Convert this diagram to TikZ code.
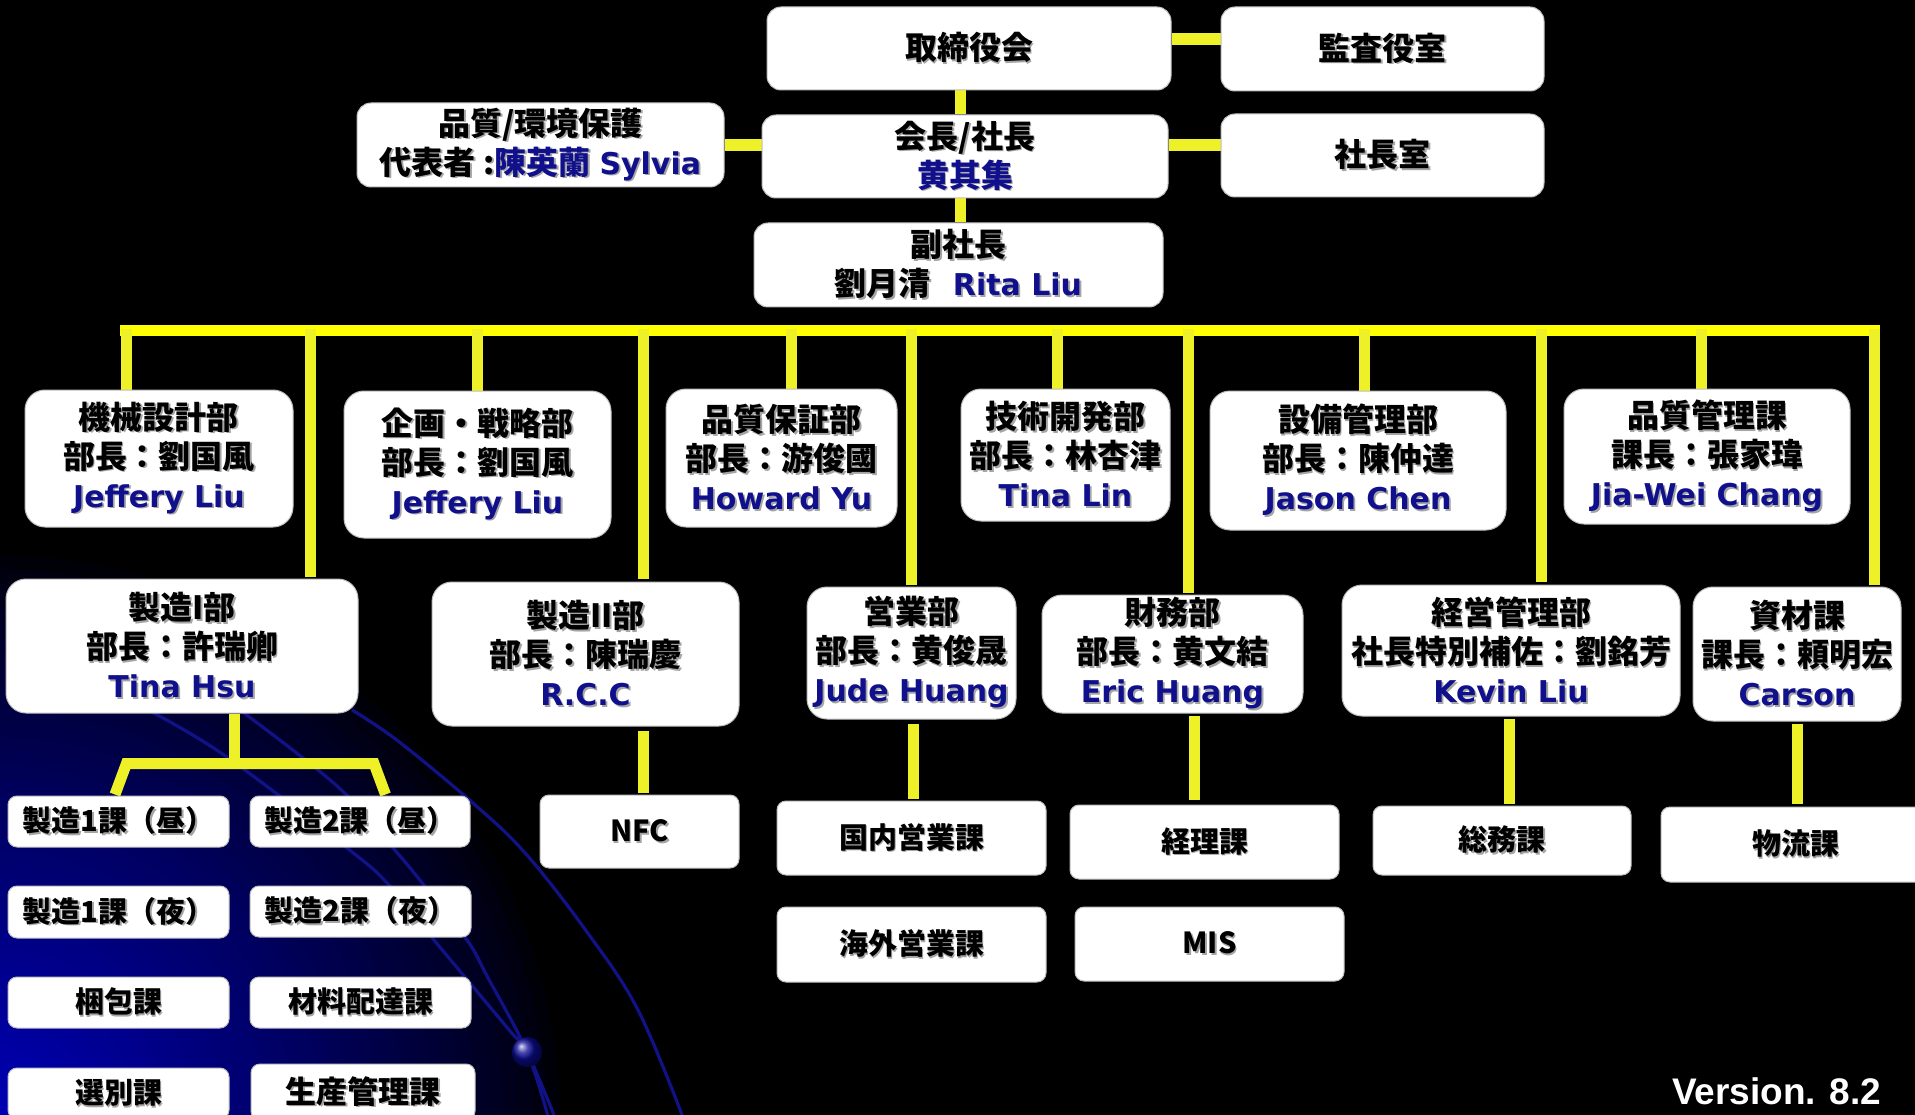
\documentclass[tikz,border=0pt]{standalone}
\usepackage{fontspec}
\newfontfamily\cjk{Noto Sans CJK JP}
\newfontfamily\lat{DejaVu Sans}
\newfontfamily\arial{Liberation Sans}
\usetikzlibrary{calc}
\definecolor{navy}{RGB}{16,16,140}
\definecolor{yelbus}{RGB}{255,255,0}
\definecolor{yel}{RGB}{238,240,40}
\definecolor{shadowc}{RGB}{165,165,165}
\definecolor{boxline}{RGB}{190,190,190}
\definecolor{bgbA}{RGB}{0,0,178}
\definecolor{arcblue}{RGB}{18,18,135}
\definecolor{dotblue}{RGB}{12,12,150}
\pgfdeclarelayer{backdrop}
\pgfdeclarelayer{links}
\pgfsetlayers{backdrop,links,main}
\newcommand\shd[2]{\leavevmode\rlap{\kern1.8pt\raisebox{-1.8pt}{\textcolor{shadowc}{#2}}}\textcolor{#1}{#2}}
\newcommand\J[1]{{\cjk\bfseries\shd{black}{#1}}}
\newcommand\JB[1]{{\cjk\bfseries\shd{navy}{#1}}}
\newcommand\JJB[2]{{\cjk\bfseries\leavevmode\rlap{\kern1.8pt\raisebox{-1.8pt}{\textcolor{shadowc}{#1#2}}}\textcolor{black}{#1}\textcolor{navy}{#2}}}
\newcommand\Nm[1]{{\lat\bfseries\fontsize{30}{39}\selectfont\shd{navy}{#1}}}
\newcommand\obox[7]{\node[#6, minimum width={#4pt-#2pt}, minimum height={#5pt-#3pt}] (#1) at ({(#2+#4)/2},{(#3+#5)/2}) {#7};}
\begin{document}
\begin{tikzpicture}[x=1pt,y=-1pt,
  orgbox/.style={draw=boxline, line width=1pt, fill=white, rounded corners=#1, inner sep=0pt, align=center, font=\fontsize{32}{39}\selectfont},
  orgbox/.default=14pt,
  bigbox/.style={orgbox=20pt},
  subbox/.style={orgbox=9pt, font=\fontsize{29}{35}\selectfont},
  conn/.style={draw=yel, line width=11pt},
  arcline/.style={draw=arcblue, line width=3.2pt}]
\useasboundingbox (0,0) rectangle (1915,1115);
% ---------- top ----------
\obox{n1}{767}{7}{1171}{90}{orgbox}{\J{取締役会}}
\obox{n2}{1221}{7}{1544}{91}{orgbox}{\J{監査役室}}
\obox{n3}{762}{115}{1168}{198}{orgbox}{\J{会長/社長}\\\JB{黄其集}}
\obox{n4}{1221}{114}{1544}{197}{orgbox}{\J{社長室}}
\obox{n5}{357}{103}{724}{187}{orgbox}{\J{品質/環境保護}\\\JJB{代表者 :}{陳英蘭}\hspace{9pt}\Nm{Sylvia}}
\obox{n6}{754}{223}{1163}{307}{orgbox}{\J{副社長}\\\J{劉月清}\hspace{22pt}\Nm{Rita Liu}}
% ---------- row 1 ----------
\obox{a1}{25}{390}{293}{527}{bigbox}{\J{機械設計部}\\\J{部長：劉国風}\\\Nm{Jeffery Liu}}
\obox{a2}{344}{391}{611}{538}{bigbox}{\J{企画・戦略部}\\\J{部長：劉国風}\\\Nm{Jeffery Liu}}
\obox{a3}{666}{389}{897}{527}{bigbox}{\J{品質保証部}\\\J{部長：游俊國}\\\Nm{Howard Yu}}
\obox{a4}{961}{389}{1170}{521}{bigbox}{\J{技術開発部}\\\J{部長：林杏津}\\\Nm{Tina Lin}}
\obox{a5}{1210}{391}{1506}{530}{bigbox}{\J{設備管理部}\\\J{部長：陳仲達}\\\Nm{Jason Chen}}
\obox{a6}{1564}{389}{1850}{524}{bigbox}{\J{品質管理課}\\\J{課長：張家瑋}\\\Nm{Jia-Wei Chang}}
% ---------- row 2 ----------
\obox{b1}{6}{579}{358}{713}{bigbox}{\J{製造I部}\\\J{部長：許瑞卿}\\\Nm{Tina Hsu}}
\obox{b2}{432}{582}{739}{726}{bigbox}{\J{製造II部}\\\J{部長：陳瑞慶}\\\Nm{R.C.C}}
\obox{b3}{807}{587}{1016}{719}{bigbox}{\J{営業部}\\\J{部長：黄俊晟}\\\Nm{Jude Huang}}
\obox{b4}{1042}{595}{1303}{713}{bigbox}{\J{財務部}\\\J{部長：黄文結}\\\Nm{Eric Huang}}
\obox{b5}{1342}{585}{1680}{716}{bigbox}{\J{経営管理部}\\\J{社長特別補佐：劉銘芳}\\\Nm{Kevin Liu}}
\obox{b6}{1693}{587}{1901}{721}{bigbox}{\J{資材課}\\\J{課長：頼明宏}\\\Nm{Carson}}
% ---------- row 3 ----------
\obox{c1}{8}{796}{229}{847}{subbox}{\J{製造1課（昼）}}
\obox{c2}{250}{796}{470}{847}{subbox}{\J{製造2課（昼）}}
\obox{c3}{8}{886}{229}{938}{subbox}{\J{製造1課（夜）}}
\obox{c4}{250}{886}{471}{937}{subbox}{\J{製造2課（夜）}}
\obox{c5}{8}{977}{229}{1028}{subbox}{\J{梱包課}}
\obox{c6}{250}{977}{471}{1028}{subbox}{\J{材料配達課}}
\obox{c7}{8}{1068}{229}{1119}{subbox}{\J{選別課}}
\obox{c8}{251}{1064}{475}{1120}{subbox,font=\fontsize{31}{35}\selectfont}{\J{生産管理課}}
\obox{d1}{540}{795}{739}{868}{subbox}{\J{NFC}}
\obox{e1}{777}{801}{1046}{875}{subbox}{\J{国内営業課}}
\obox{e2}{777}{907}{1046}{982}{subbox}{\J{海外営業課}}
\obox{f1}{1070}{805}{1339}{879}{subbox}{\J{経理課}}
\obox{f2}{1075}{907}{1344}{981}{subbox}{\J{MIS}}
\obox{g1}{1373}{806}{1631}{875}{subbox}{\J{総務課}}
\obox{h1}{1661}{807}{1930}{882}{subbox}{\J{物流課}}
\node[anchor=base west, inner sep=0pt, text=white, font=\arial\bfseries\fontsize{37}{40}\selectfont] (ver) at (1672,1104) {Version. 8.2};
% ---------- background ----------
\begin{pgfonlayer}{backdrop}
  \fill[black] (0,0) rectangle (1915,1115);
  \begin{scope}
    \clip (0,0) rectangle (1915,1115);
    \foreach \i in {0,...,39}{
      \pgfmathsetmacro\rr{570-14*\i}
      \pgfmathsetmacro\pc{100*((\i+1)/40)^0.8}
      \fill[bgbA!\pc!black] (-10,1125) circle[radius=\rr pt];
    }
    \draw[arcline] plot[smooth, tension=0.6] coordinates {(148,710) (224,755) (347,848) (388,884) (434,940) (464,976) (510,1031) (527,1052) (556,1120)};
    \draw[arcline] plot[smooth, tension=0.6] coordinates {(240,710) (337,786) (393,848) (423,884) (467,940) (487,976) (527,1052) (549,1120)};
    \draw[arcline] plot[smooth, tension=0.6] coordinates {(352,710) (398,741) (474,804) (526,854) (587,932) (638,1010) (684,1120)};
    \shade[ball color=dotblue] (527,1052) circle[radius=15pt];
  \end{scope}
\end{pgfonlayer}
% ---------- connectors ----------
\begin{pgfonlayer}{links}
  \coordinate (busL) at (120,331);
  \coordinate (busR) at (1880,331);
  \draw[draw=yelbus, line width=11pt] (busL) -- (busR);
  \draw[conn, line width=12pt] ($(n1.east)+(0,-9.5)$) -- ($(n1.east -| n2.west)+(0,-9.5)$);
  \draw[conn] ($(n1.south)+(-9,0)$) -- ($(n3.north -| n1.south)+(-9,0)$);
  \draw[conn, line width=12pt] (n5.east) -- (n5.east -| n3.west);
  \draw[conn, line width=12pt] ($(n3.east)+(0,-11.5)$) -- ($(n3.east -| n4.west)+(0,-11.5)$);
  \draw[conn] ($(n3.south)+(-5,0)$) -- ($(n6.north -| n3.south)+(-5,0)$);
  % row 1
  \draw[conn] ($(busL -| a1.north)+(-33,-2)$) -- ($(a1.north)+(-33,0)$);
  \draw[conn] ($(busL -| a2.north)+(-0.5,-2)$) -- ($(a2.north)+(-0.5,0)$);
  \draw[conn] ($(busL -| a3.north)+(9.5,-2)$) -- ($(a3.north)+(9.5,0)$);
  \draw[conn] ($(busL -| a4.north)+(-8.5,-2)$) -- ($(a4.north)+(-8.5,0)$);
  \draw[conn] ($(busL -| a5.north)+(6,-2)$) -- ($(a5.north)+(6,0)$);
  \draw[conn] ($(busL -| a6.north)+(-6,-2)$) -- ($(a6.north)+(-6,0)$);
  % row 2
  \draw[conn] ($(busL -| b1.north)+(128,-2)$) -- ($(b1.north)+(128,-2)$);
  \draw[conn] ($(busL -| b2.north)+(57.5,-2)$) -- ($(b2.north)+(57.5,-3)$);
  \draw[conn] ($(busL -| b3.north)+(-0.5,-2)$) -- ($(b3.north)+(-0.5,-2)$);
  \draw[conn] ($(busL -| b4.north)+(15.5,-2)$) -- ($(b4.north)+(15.5,-2)$);
  \draw[conn] ($(busL -| b5.north)+(30,-2)$) -- ($(b5.north)+(30,-3)$);
  \draw[conn] ($(busL -| b6.north)+(77,-2)$) -- ($(b6.north)+(77,-2)$);
  % row 3
  \draw[conn] ($(b1.south)+(52,0)$) -- ($(b1.south)+(52,51)$);
  \draw[conn, line join=miter] ($(c1.north)+(-3.5,-1)$) -- ($(c1.north)+(8,-32)$) -- ($(c2.north)+(14,-32)$) -- ($(c2.north)+(25.5,-1)$);
  \draw[conn] ($(b2.south)+(57.5,4)$) -- ($(d1.north -| b2.south)+(57.5,-2)$);
  \draw[conn] ($(b3.south)+(1.5,4)$) -- ($(e1.north -| b3.south)+(1.5,-2)$);
  \draw[conn] ($(b4.south)+(21.5,2)$) -- ($(f1.north -| b4.south)+(21.5,-5)$);
  \draw[conn] ($(b5.south)+(-2,2)$) -- ($(g1.north -| b5.south)+(-2,-2)$);
  \draw[conn] ($(b6.south)+(0,2)$) -- ($(h1.north -| b6.south)+(0,-3)$);
\end{pgfonlayer}
\end{tikzpicture}
\end{document}
